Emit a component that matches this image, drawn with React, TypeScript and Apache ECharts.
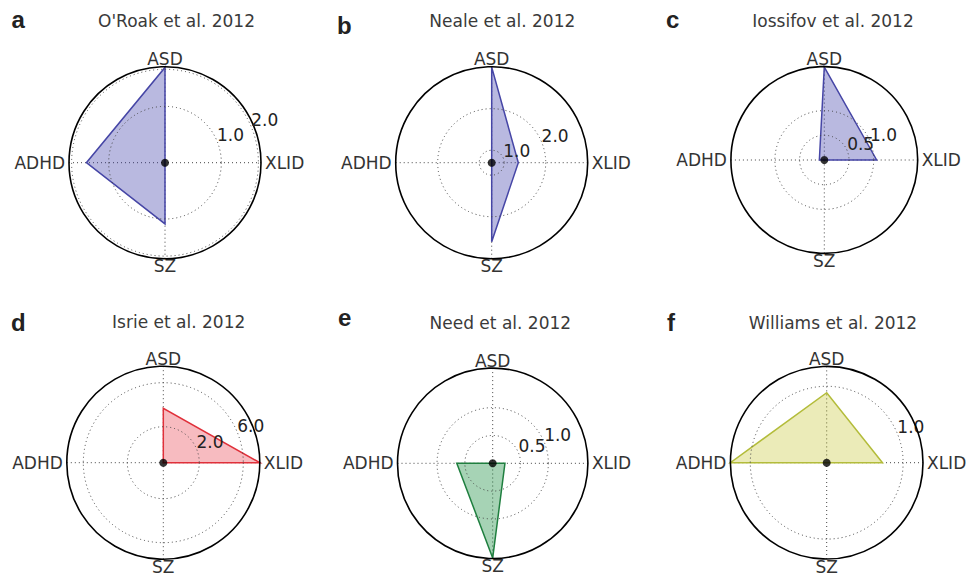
import React, { useEffect, useRef } from 'react';
import * as echarts from 'echarts';

// Category order around the circle: 0° (right), 90° (top), 180° (left), 270° (bottom)
const categories = ['XLID', 'ASD', 'ADHD', 'SZ'];

const panelLetters = ['a', 'b', 'c', 'd', 'e', 'f'];
const panelTitles = [
  "O'Roak et al. 2012",
  'Neale et al. 2012',
  'Iossifov et al. 2012',
  'Isrie et al. 2012',
  'Need et al. 2012',
  'Williams et al. 2012',
];

// Values in category order [XLID, ASD, ADHD, SZ]
const valuesA = [-0.52, 2.05, 1.6, 1.13];
const valuesB = [1.34, 3.0, 0.7, 2.6];
const valuesC = [1.06, 1.88, 0.1, 0.0];
const valuesD = [7.5, 3.67, -1.27, -1.27];
const valuesE = [0.22, 0.0, 0.645, 1.7];
const valuesF = [0.73, 0.915, 1.26, 0.0];

// Radial axis ranges (centre value, outer value)
const radialMin = [-0.52, 0.7, 0.0, -1.27, 0.0, 0.0];
const radialMax = [2.07, 3.01, 1.89, 7.5, 1.71, 1.26];

// Radial grid rings (tick labels)
const ringsA = [1.0, 2.0];
const ringsB = [1.0, 2.0];
const ringsC = [0.5, 1.0];
const ringsD = [2.0, 6.0];
const ringsE = [0.5, 1.0];
const ringsF = [1.0];

const allValues = [valuesA, valuesB, valuesC, valuesD, valuesE, valuesF];
const allRings = [ringsA, ringsB, ringsC, ringsD, ringsE, ringsF];

// Layout (pixels)
const centers = [
  [165, 162.7],
  [491.7, 162.7],
  [824.3, 160],
  [163.3, 462.7],
  [492.7, 463.3],
  [826.7, 462.7],
];
const radii = [96, 96, 93.4, 96.5, 95.2, 96.3];
const letterPos = [
  [11.5, 19],
  [337, 25.3],
  [666, 19.5],
  [11, 322.5],
  [338, 317.5],
  [667, 322.5],
];
const titlePos = [
  [176.5, 20.8],
  [502.3, 20.8],
  [833, 21.3],
  [178.7, 322.4],
  [500.3, 323.4],
  [833, 323.4],
];

// Styles
const fills = [
  'rgba(60,60,170,0.36)',
  'rgba(60,60,170,0.36)',
  'rgba(60,60,170,0.36)',
  'rgba(230,30,45,0.30)',
  'rgba(20,140,60,0.38)',
  'rgba(190,190,20,0.30)',
];
const strokes = ['#4646a6', '#4646a6', '#4646a6', '#e0303a', '#1f7f3f', '#b3bc3a'];

const FONT = '"DejaVu Sans", Verdana, sans-serif';

export default function App() {
  const ref = useRef<HTMLDivElement>(null);

  useEffect(() => {
    if (!ref.current) return;
    const chart = echarts.init(ref.current, undefined, { renderer: 'svg' });

    const polar = centers.map((c, i) => ({ center: [c[0], c[1]], radius: radii[i] }));

    const angleAxis = centers.map((_, i) => ({
      polarIndex: i,
      type: 'category',
      data: categories,
      startAngle: 0,
      clockwise: false,
      boundaryGap: false,
      axisLine: { show: false },
      axisTick: { show: false },
      splitLine: { show: true, lineStyle: { color: '#444', width: 1, type: [1, 3] } },
      axisLabel: {
        show: true,
        margin: -1,
        color: '#333',
        fontSize: 17,
        fontFamily: FONT,
        formatter: (v: string) => (v === 'XLID' || v === 'ADHD' ? `{h|${v}}` : `{v|${v}}`),
        rich: {
          h: { padding: [0, 5, 0, 5], fontSize: 17, fontFamily: FONT, color: '#333' },
          v: { fontSize: 17, fontFamily: FONT, color: '#333' },
        },
      },
    }));

    const radiusAxis = centers.map((_, i) => ({
      polarIndex: i,
      type: 'value',
      min: radialMin[i],
      max: radialMax[i],
      axisLine: { show: false },
      axisTick: { show: false },
      axisLabel: { show: false },
      splitLine: { show: false },
    }));

    const series: any[] = [];
    allValues.forEach((vals, i) => {
      // filled polygon
      series.push({
        type: 'custom',
        coordinateSystem: 'polar',
        polarIndex: i,
        silent: true,
        data: vals.map((v, k) => [v, k]),
        renderItem: (params: any, api: any) => {
          if (params.dataIndex !== 0) return null;
          const pts = vals.map((v, k) => api.coord([v, k]));
          return {
            type: 'polygon',
            shape: { points: pts },
            style: { fill: fills[i], stroke: strokes[i], lineWidth: 1.5, lineJoin: 'miter' },
          };
        },
        z: 3,
      });
      // rings, tick labels and outer circle
      series.push({
        type: 'custom',
        coordinateSystem: 'polar',
        polarIndex: i,
        silent: true,
        data: allRings[i].map((v) => [v, 0]),
        renderItem: (params: any, api: any) => {
          const v = api.value(0);
          const p = api.coord([v, 0]);
          const cs = params.coordSys;
          const r = Math.hypot(p[0] - cs.cx, p[1] - cs.cy);
          const a = (22.5 * Math.PI) / 180;
          const children: any[] = [
            {
              type: 'circle',
              shape: { cx: cs.cx, cy: cs.cy, r },
              style: { fill: 'none', stroke: '#444', lineWidth: 1, lineDash: [1, 3] },
            },
            {
              type: 'text',
              x: cs.cx + r * Math.cos(a),
              y: cs.cy - r * Math.sin(a) + 2,
              style: {
                text: v.toFixed(1),
                fill: '#222',
                fontSize: 17,
                fontFamily: FONT,
                align: 'left',
                verticalAlign: 'bottom',
              },
            },
          ];
          if (params.dataIndex === 0) {
            const outer = api.coord([radialMax[i], 0]);
            const R = Math.hypot(outer[0] - cs.cx, outer[1] - cs.cy);
            children.push({
              type: 'circle',
              shape: { cx: cs.cx, cy: cs.cy, r: R },
              style: { fill: 'none', stroke: '#000', lineWidth: 1.6 },
            });
          }
          return { type: 'group', children };
        },
        z: 4,
      });
      // centre dot
      series.push({
        type: 'scatter',
        coordinateSystem: 'polar',
        polarIndex: i,
        silent: true,
        data: [[radialMin[i], 0]],
        symbolSize: 8,
        itemStyle: { color: '#000' },
        z: 5,
      });
    });

    const graphic: any[] = [];
    panelLetters.forEach((l, i) => {
      graphic.push({
        type: 'text',
        x: letterPos[i][0],
        y: letterPos[i][1],
        style: {
          text: l,
          fill: '#222',
          font: 'bold 24px "Liberation Sans", Arial, sans-serif',
          align: 'left',
          verticalAlign: 'middle',
        },
      });
    });
    panelTitles.forEach((t, i) => {
      graphic.push({
        type: 'text',
        x: titlePos[i][0],
        y: titlePos[i][1],
        style: {
          text: t,
          fill: '#3a3a3a',
          font: `17px ${FONT}`,
          align: 'center',
          verticalAlign: 'middle',
        },
      });
    });

    chart.setOption({
      animation: false,
      backgroundColor: '#fff',
      polar,
      angleAxis,
      radiusAxis,
      series,
      graphic,
    });

    return () => chart.dispose();
  }, []);

  return (
    <div
      ref={ref}
      style={{ position: 'fixed', left: 0, top: 0, width: 968, height: 577, background: '#fff' }}
    />
  );
}
